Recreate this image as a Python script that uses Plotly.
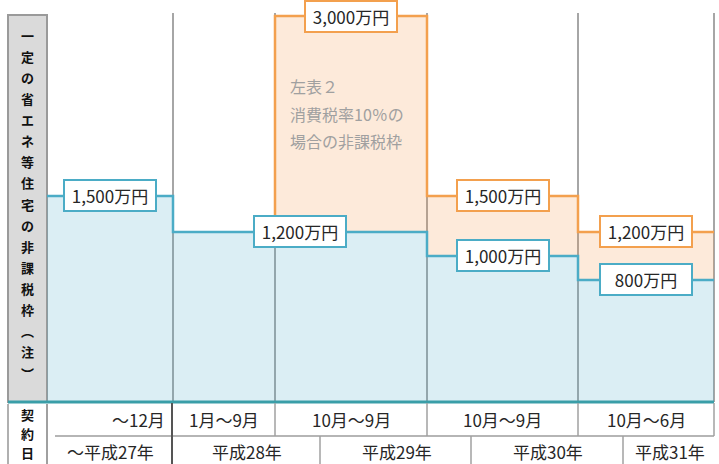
import plotly.graph_objects as go

# ---------------- data ----------------
periods = ["～12月", "1月～9月", "10月～9月", "10月～9月", "10月～6月"]
years = ["～平成27年", "平成28年", "平成29年", "平成30年", "平成31年"]
general_limit = [1500, 1200, 1200, 1000, 800]        # 万円 (一定の省エネ等住宅)
tax10_limit = [None, None, 3000, 1500, 1200]          # 万円 (消費税率10%の場合)
side_label = "一定の省エネ等住宅の非課税枠（注）"
date_label = "契約日"
note_lines = ["左表２", "消費税率10％の", "場合の非課税枠"]

# ---------------- layout constants ----------------
W, H = 719, 464
PLOT_TOP, PLOT_BOTTOM = 13, 402
COL_EDGES = [47, 173, 275, 427, 578, 714]
YEAR_EDGES = [47, 172, 320, 471, 623, 714]
Y_RANGE = [-218, 3025]
FONT = "Noto Sans CJK JP"
TEAL = "#4bacc6"
TEAL_DARK = "#3a9ea8"
ORANGE = "#f3a04e"
GRAY = "#a6a6a6"


def py(p):
    """pixel row -> paper y"""
    return (PLOT_BOTTOM - p) / (PLOT_BOTTOM - PLOT_TOP)


def step_xy(edges, vals):
    xs, ys = [], []
    for i, v in enumerate(vals):
        xs += [edges[i], edges[i + 1]]
        ys += [v, v]
    return xs, ys


def fmt(v):
    return f"{v:,}万円"


fig = go.Figure()

# teal area + line
tx, ty = step_xy(COL_EDGES, general_limit)
fig.add_trace(go.Scatter(x=tx + [tx[-1], tx[0]], y=ty + [Y_RANGE[0], Y_RANGE[0]],
                         fill="toself", fillcolor="rgba(75,172,198,0.2)",
                         line=dict(width=0), mode="lines", hoverinfo="skip"))

# orange area + line
idx = next(i for i, v in enumerate(tax10_limit) if v is not None)
ux, uy = step_xy(COL_EDGES[idx:], tax10_limit[idx:])
lx, ly = step_xy(COL_EDGES[idx:], general_limit[idx:])
fig.add_trace(go.Scatter(x=ux + lx[::-1], y=uy + ly[::-1],
                         fill="toself", fillcolor="rgba(247,150,70,0.2)",
                         line=dict(width=0), mode="lines", hoverinfo="skip"))
fig.add_trace(go.Scatter(x=[COL_EDGES[idx]] + ux, y=[general_limit[idx]] + uy,
                         mode="lines", line=dict(color=ORANGE, width=2.5),
                         hoverinfo="skip"))
fig.add_trace(go.Scatter(x=tx, y=ty, mode="lines",
                         line=dict(color=TEAL, width=2.5), hoverinfo="skip"))

annotations = []


def ann(x, y, text, size=17, color="#262626", xanchor="center", yref="paper", **kw):
    d = dict(x=x, y=y, xref="x", yref=yref, text=text, showarrow=False,
             xanchor=xanchor, yanchor="middle",
             font=dict(family=FONT, size=size, color=color))
    d.update(kw)
    annotations.append(d)


def group_labels(vals, color):
    i = 0
    while i < len(vals):
        if vals[i] is None:
            i += 1
            continue
        j = i
        while j + 1 < len(vals) and vals[j + 1] == vals[i]:
            j += 1
        cx = (COL_EDGES[i] + COL_EDGES[j + 1]) / 2
        ann(cx, vals[i], fmt(vals[i]), yref="y", bgcolor="white", bordercolor=color,
            borderwidth=2, borderpad=2, width=86)
        i = j + 1


group_labels(general_limit, TEAL)
group_labels(tax10_limit, ORANGE)

# note text in orange area
for k, line in enumerate(note_lines):
    ann(288, py(86 + 27.5 * k), line, size=16, color="#a0a0a0", xanchor="left")

# vertical side label
chars = [{"（": "︵", "）": "︶"}.get(c, c) for c in side_label]
n = len(chars)
for k, c in enumerate(chars):
    yy = 35 + (373 - 35) * k / (n - 1)
    ann(27.5, py(yy), f"<b>{c}</b>", size=13, color="#111")
for k, c in enumerate(date_label):
    ann(27.5, py(414 + 19 * k), f"<b>{c}</b>", size=13, color="#111")

# period row
for i, p in enumerate(periods):
    if i == 0:
        ann(COL_EDGES[1] - 6, py(419), p, xanchor="right")
    else:
        ann((COL_EDGES[i] + COL_EDGES[i + 1]) / 2, py(419), p)
# year row
for i, yl in enumerate(years):
    ann((YEAR_EDGES[i] + YEAR_EDGES[i + 1]) / 2 + 1, py(451), yl)

shapes = []
# side gray box
shapes.append(dict(type="rect", xref="x", yref="paper", x0=8, x1=47, y0=py(402), y1=py(15),
                   fillcolor="#dadada", line=dict(color="#9a9a9a", width=2), layer="below"))
shapes.append(dict(type="line", xref="x", yref="paper", x0=8, x1=8, y0=py(404), y1=py(464),
                   line=dict(color="#b0b0b0", width=2)))
shapes.append(dict(type="line", xref="x", yref="paper", x0=47, x1=47, y0=py(404), y1=py(464),
                   line=dict(color="#a0a0a0", width=2)))
# bottom teal base line
shapes.append(dict(type="line", xref="x", yref="paper", x0=8, x1=COL_EDGES[-1], y0=0, y1=0,
                   line=dict(color=TEAL_DARK, width=3)))
# table lines
shapes.append(dict(type="line", xref="x", yref="paper", x0=55, x1=COL_EDGES[-1],
                   y0=py(436), y1=py(436), line=dict(color="#b5b5b5", width=2)))
shapes.append(dict(type="line", xref="x", yref="paper", x0=172, x1=172, y0=py(403), y1=py(464),
                   line=dict(color="#555555", width=2)))
for xe in COL_EDGES[2:]:
    shapes.append(dict(type="line", xref="x", yref="paper", x0=xe, x1=xe, y0=py(403),
                       y1=py(436), line=dict(color="#a0a0a0", width=1.5)))
for xe in YEAR_EDGES[2:-1]:
    shapes.append(dict(type="line", xref="x", yref="paper", x0=xe, x1=xe, y0=py(436),
                       y1=py(464), line=dict(color="#a0a0a0", width=1.5)))

fig.update_layout(
    width=W, height=H,
    margin=dict(l=0, r=0, t=PLOT_TOP, b=H - PLOT_BOTTOM),
    paper_bgcolor="white", plot_bgcolor="white",
    showlegend=False,
    xaxis=dict(range=[0, W], tickvals=COL_EDGES[1:], showticklabels=False, ticks="",
               showgrid=True, gridcolor=GRAY, gridwidth=2, zeroline=False, fixedrange=True),
    yaxis=dict(range=Y_RANGE, showgrid=False, showticklabels=False, zeroline=False,
               fixedrange=True),
    annotations=annotations, shapes=shapes,
    font=dict(family=FONT),
)

fig.write_html("out.html")
